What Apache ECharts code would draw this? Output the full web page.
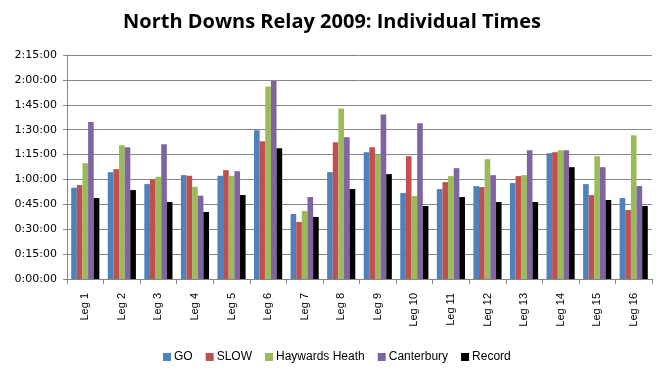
<!DOCTYPE html>
<html><head><meta charset="utf-8">
<script src="https://cdn.jsdelivr.net/npm/echarts@6/dist/echarts.min.js"></script>
<style>html,body{margin:0;padding:0;background:#fff}#c{width:664px;height:374px}</style>
</head><body><div id="c"></div>
<script>
var categories = ['Leg 1','Leg 2','Leg 3','Leg 4','Leg 5','Leg 6','Leg 7','Leg 8','Leg 9','Leg 10','Leg 11','Leg 12','Leg 13','Leg 14','Leg 15','Leg 16'];
// values in minutes
var goTimes = [55, 64.4, 57.2, 62.6, 62.2, 89.6, 39.2, 64.4, 76.4, 51.8, 54.2, 56, 57.8, 75.8, 57.2, 48.8];
var slowTimes = [56.6, 66.2, 60.2, 62.2, 65.6, 83, 34.4, 82.4, 79.4, 74, 58.4, 55.4, 62, 76.4, 50.6, 41.6];
var haywardsTimes = [69.8, 80.6, 61.6, 55.6, 62.2, 116, 41, 102.8, 74.8, 50, 62, 72.2, 62.6, 77.6, 74, 86.6];
var canterburyTimes = [94.6, 79.4, 81.2, 50.2, 65, 119.4, 49.4, 85.4, 99.2, 93.8, 66.8, 62.6, 77.6, 77.6, 67.4, 56];
var recordTimes = [48.8, 53.6, 46.4, 40.4, 50.6, 78.8, 37.4, 54.2, 63.2, 44, 49.4, 46.4, 46.4, 67.4, 47.6, 44];
var seriesNames = ['GO','SLOW','Haywards Heath','Canterbury','Record'];
var colors = ['#4F81BD','#C0504D','#9BBB59','#8064A2','#000000'];

function fmt(m){
  var s = Math.round(m*60);
  var h = Math.floor(s/3600), mm = Math.floor((s%3600)/60), ss = s%60;
  return h + ':' + (mm<10?'0':'') + mm + ':' + (ss<10?'0':'') + ss;
}
var data = [goTimes, slowTimes, haywardsTimes, canterburyTimes, recordTimes];
var chart = echarts.init(document.getElementById('c'));
chart.setOption({
  animation: false,
  color: colors,
  title: {text: 'North Downs Relay 2009: Individual Times', left: 'center', top: 7,
    textStyle: {fontFamily: 'Open Sans', fontWeight: 'bold', fontSize: 20, color: '#000'}},
  legend: {top: 346, left: 158, itemWidth: 8, itemHeight: 8, itemGap: 13,
    textStyle: {fontFamily: 'Liberation Sans', fontSize: 12, color: '#000', padding: [0,0,0,-2]},
    data: seriesNames.map(function(n){return {name:n, icon:'rect'};})},
  grid: {left: 67, right: 12, top: 55, bottom: 95},
  xAxis: {type: 'category', data: categories,
    axisLine: {lineStyle: {color: '#868686'}},
    axisTick: {show: true, length: 5, lineStyle: {color: '#868686'}},
    axisLabel: {rotate: 90, margin: 14, fontFamily: 'Liberation Sans', fontSize: 11, color: '#000', interval: 0}},
  yAxis: {type: 'value', min: 0, max: 135, interval: 15,
    axisLine: {show: true, lineStyle: {color: '#868686'}},
    axisTick: {show: true, length: 4, lineStyle: {color: '#868686'}},
    splitLine: {lineStyle: {color: '#868686'}},
    axisLabel: {formatter: fmt, fontFamily: 'DejaVu Sans', fontSize: 11, color: '#000', margin: 10}},
  series: seriesNames.map(function(n,i){
    return {name: n, type: 'bar', data: data[i], barGap: '0%', barCategoryGap: '23%'};
  })
});
</script></body></html>
